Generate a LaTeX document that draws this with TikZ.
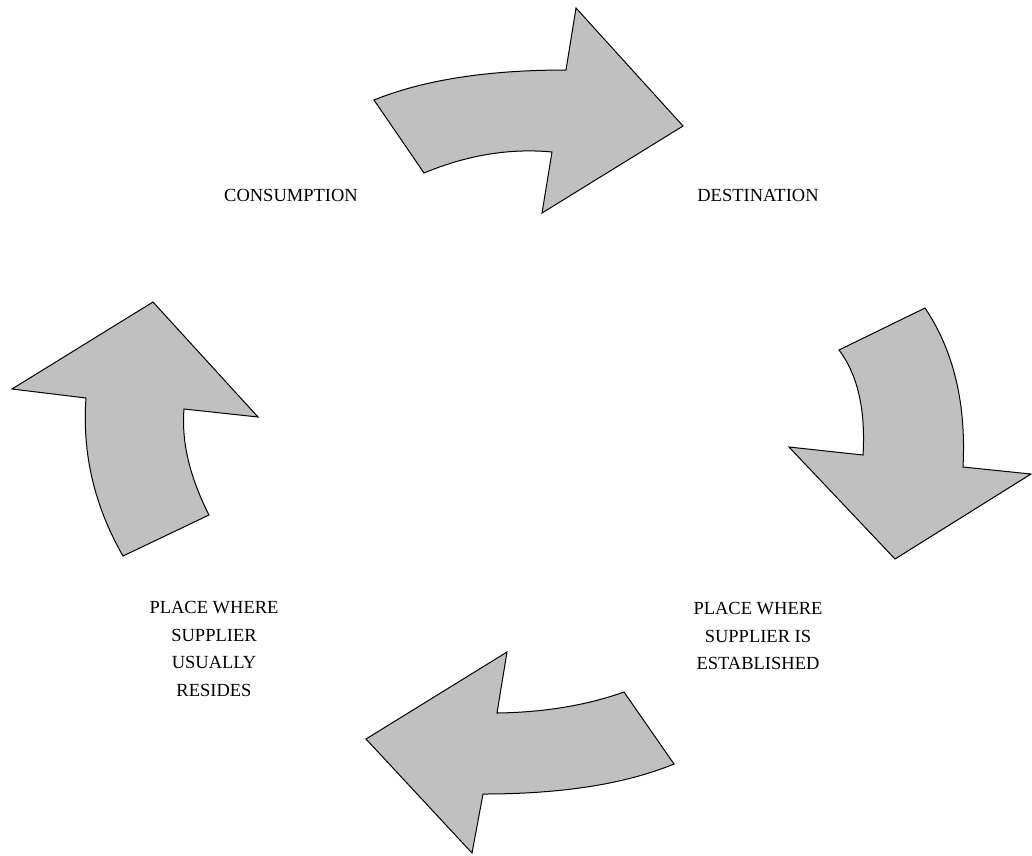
\documentclass[tikz,border=0pt]{standalone}
\usepackage{fontspec}
\setmainfont{Liberation Serif}
\definecolor{arrowgray}{HTML}{C0C0C0}
\begin{document}
\begin{tikzpicture}[x=1pt,y=-1pt,
  bigarrow/.style={fill=arrowgray,draw=black,line width=1pt,line join=miter},
  lbl/.style={font=\fontsize{18.5}{27.5}\selectfont,align=center,inner sep=0pt}]
\useasboundingbox (0,0) rectangle (1032,855);
% top arrow (to the right)
\draw[bigarrow] (374,100) .. controls (423.3,80) and (487.3,70) .. (566,70)
  -- (576,8) -- (683,126) -- (542,213) -- (552,152)
  .. controls (510,148) and (467.3,155) .. (424,173) -- cycle;
% right arrow (down)
\draw[bigarrow] (925,308) .. controls (953.7,350.7) and (966.3,403.7) .. (963,467)
  -- (1031,474) -- (895,559) -- (789,447) -- (863,455)
  .. controls (865.7,409.7) and (857.7,374.7) .. (839,350) -- cycle;
% bottom arrow (to the left)
\draw[bigarrow] (674,764) .. controls (625.3,784) and (561.7,794) .. (483,794)
  -- (472,853) -- (366,739) -- (507,652) -- (497,713)
  .. controls (544.3,712.3) and (586.7,705.3) .. (624,692) -- cycle;
% left arrow (up)
\draw[bigarrow] (123,556) .. controls (94.3,506) and (82,453.3) .. (86,398)
  -- (12,389) -- (153,302) -- (258,417) -- (184,409)
  .. controls (181.3,441.7) and (189.7,477) .. (209,515) -- cycle;
% labels
\node[lbl] (cons) at (291,195) {CONSUMPTION};
\node[lbl] (dest) at (758,195) {DESTINATION};
\node[lbl] (estab) at (758,636) {PLACE WHERE\\SUPPLIER IS\\ESTABLISHED};
\node[lbl] (resid) at (214,649) {PLACE WHERE\\SUPPLIER\\USUALLY\\RESIDES};
\end{tikzpicture}
\end{document}
